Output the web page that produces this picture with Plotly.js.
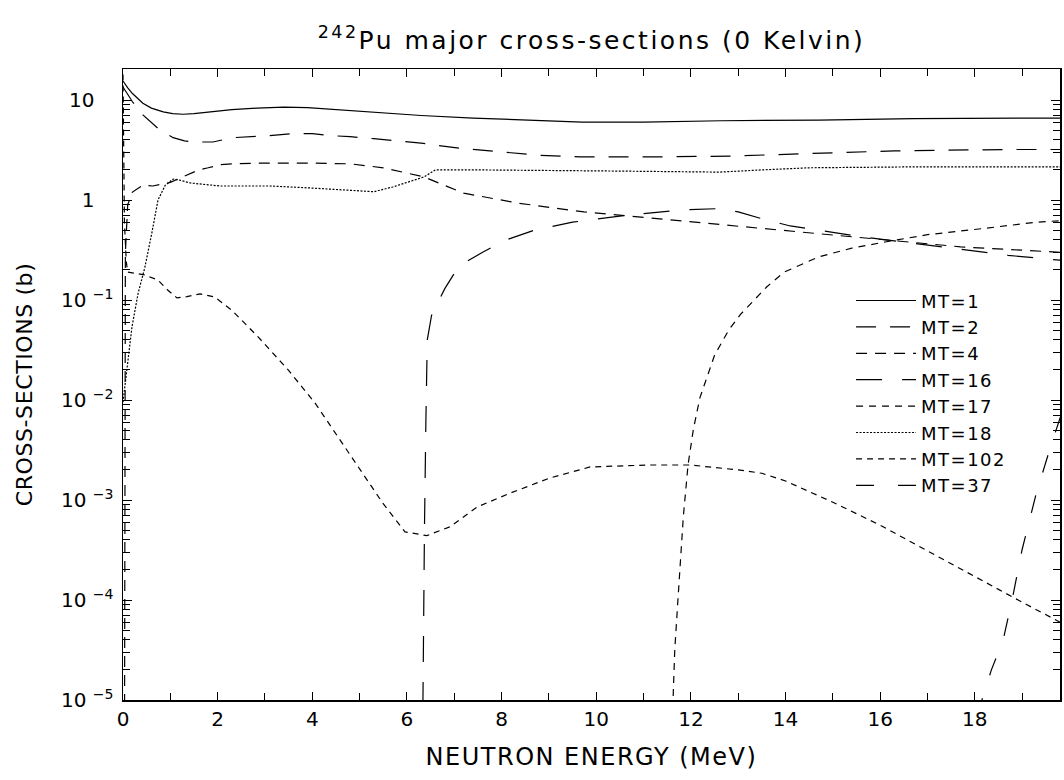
<!DOCTYPE html>
<html><head><meta charset="utf-8">
<script src="https://cdn.plot.ly/plotly-3.0.1.min.js"></script>
<style>
html,body{margin:0;padding:0;background:#fff;overflow:hidden}
.gtitle{letter-spacing:2.5px}
.xtitle{letter-spacing:1.5px}
.ytitle{letter-spacing:0.6px}
.legendtext{letter-spacing:1.5px}
</style>
</head><body><div id="chart" style="width:1064px;height:780px"></div>
<script>
// Neutron energy (MeV) and cross-sections (barns)
const mt1Energy = [0, 0.1, 0.2, 0.42, 0.6, 0.85, 1.05, 1.27, 1.5, 1.84, 2.3, 2.83, 3.4, 3.9, 4.65, 5.5, 6.3, 7.4, 8.8, 9.7, 11.0, 12.65, 14.7, 16.7, 19.3, 19.8];
const mt1XS     = [15.5, 13.2, 11.6, 9.3, 8.3, 7.6, 7.3, 7.2, 7.3, 7.6, 8.0, 8.3, 8.5, 8.4, 7.9, 7.4, 7.0, 6.6, 6.2, 6.0, 6.0, 6.2, 6.3, 6.5, 6.6, 6.6];

const mt2Energy = [0, 0.1, 0.2, 0.42, 0.74, 1.06, 1.3, 1.48, 1.9, 2.32, 2.75, 3.1, 3.57, 4.0, 4.4, 4.8, 5.3, 6.3, 7.1, 8.0, 8.8, 9.66, 11.35, 12.85, 14.7, 16.3, 18.7, 19.8];
const mt2XS     = [13.5, 11.5, 9.6, 7.1, 5.2, 4.2, 3.9, 3.8, 3.8, 4.2, 4.3, 4.4, 4.6, 4.6, 4.4, 4.3, 4.1, 3.7, 3.3, 3.0, 2.8, 2.7, 2.7, 2.75, 2.95, 3.1, 3.2, 3.2];

const mt4Energy = [0.03, 0.05, 0.1, 0.2, 0.42, 0.63, 1.0, 1.4, 1.6, 1.8, 2.05, 2.3, 3.0, 4.0, 4.8, 5.5, 6.36, 7.2, 8.35, 9.74, 11.15, 12.76, 14.45, 16.1, 17.7, 19.8];
const mt4XS     = [1e-6, 0.3, 0.9, 1.2, 1.41, 1.38, 1.5, 1.8, 2.0, 2.1, 2.25, 2.3, 2.34, 2.34, 2.3, 2.1, 1.7, 1.17, 0.93, 0.76, 0.66, 0.56, 0.47, 0.40, 0.34, 0.30];

const mt16Energy = [6.32, 6.34, 6.37, 6.40, 6.43, 6.52, 6.8, 7.1, 7.6, 8.1, 8.7, 9.5, 10.7, 11.9, 12.6, 13.0, 13.5, 14.1, 15.6, 17.5, 18.7, 19.8];
const mt16XS     = [1e-6, 2e-5, 5e-4, 6e-3, 0.04, 0.07, 0.13, 0.22, 0.30, 0.40, 0.50, 0.60, 0.71, 0.80, 0.82, 0.76, 0.65, 0.55, 0.43, 0.33, 0.28, 0.25];

const mt17Energy = [11.55, 11.62, 11.66, 11.72, 11.77, 11.84, 11.94, 12.05, 12.19, 12.5, 12.8, 13.04, 13.6, 13.97, 14.7, 15.4, 16.1, 17.0, 18.2, 19.3, 19.8];
const mt17XS     = [1e-6, 1e-5, 3.2e-5, 9e-5, 2.1e-4, 6.8e-4, 2.24e-3, 5e-3, 0.0105, 0.028, 0.05, 0.071, 0.135, 0.19, 0.27, 0.33, 0.38, 0.45, 0.52, 0.60, 0.62];

const mt18Energy = [0, 0.04, 0.08, 0.19, 0.32, 0.46, 0.61, 0.74, 0.89, 1.06, 1.2, 1.42, 2.05, 3.1, 3.95, 4.6, 5.0, 5.3, 5.7, 6.36, 6.6, 7.5, 10.3, 12.6, 13.5, 14.5, 16.5, 19.8];
const mt18XS     = [0.0095, 0.0135, 0.021, 0.054, 0.117, 0.21, 0.47, 1.0, 1.4, 1.62, 1.58, 1.48, 1.38, 1.38, 1.32, 1.26, 1.22, 1.21, 1.35, 1.7, 2.0, 2.0, 1.95, 1.9, 2.0, 2.1, 2.14, 2.14];

const mt102Energy = [0, 0.03, 0.07, 0.1, 0.46, 0.74, 0.95, 1.14, 1.35, 1.63, 1.94, 2.30, 2.85, 3.49, 4.06, 4.78, 5.49, 5.96, 6.42, 6.91, 7.48, 8.18, 9.02, 9.87, 11.13, 11.98, 13.0, 13.5, 14.0, 15.0, 16.0, 17.0, 18.0, 19.0, 19.86];
const mt102XS     = [18, 0.6, 0.24, 0.19, 0.178, 0.158, 0.125, 0.105, 0.108, 0.115, 0.107, 0.079, 0.043, 0.020, 0.0093, 0.0029, 9.3e-4, 4.8e-4, 4.4e-4, 5.4e-4, 8.5e-4, 1.17e-3, 1.66e-3, 2.14e-3, 2.24e-3, 2.24e-3, 2.0e-3, 1.85e-3, 1.55e-3, 9.5e-4, 5.6e-4, 3.1e-4, 1.7e-4, 9.5e-5, 5.8e-5];

const mt37Energy = [18.05, 18.15, 18.35, 18.6, 18.8, 19.0, 19.3, 19.6, 19.86];
const mt37XS     = [1e-6, 1e-5, 2e-5, 4e-5, 1.07e-4, 3.2e-4, 1.17e-3, 3.4e-3, 8e-3];

const seriesNames = ['MT=1', 'MT=2', 'MT=4', 'MT=16', 'MT=17', 'MT=18', 'MT=102', 'MT=37'];
const xTickVals = [0, 2, 4, 6, 8, 10, 12, 14, 16, 18];
const yTickVals = [1e-5, 1e-4, 1e-3, 1e-2, 1e-1, 1, 10];
const yTickText = ['10 <sup>\u22125</sup>', '10 <sup>\u22124</sup>', '10 <sup>\u22123</sup>', '10 <sup>\u22122</sup>', '10 <sup>\u22121</sup>', '1\u00a0\u00a0\u00a0', '10\u00a0\u00a0\u00a0'];

const energies = [mt1Energy, mt2Energy, mt4Energy, mt16Energy, mt17Energy, mt18Energy, mt102Energy, mt37Energy];
const values = [mt1XS, mt2XS, mt4XS, mt16XS, mt17XS, mt18XS, mt102XS, mt37XS];
const dashes = ['solid', '20px,14px', '11px,8px', '26px,20px', '7px,6px', '2px,1.5px', '6px,5px', '18px,24px'];

const minorY = [];
for (let p = -5; p <= 1; p++) for (let d = 2; d <= 9; d++) minorY.push(d * Math.pow(10, p));

const FONT = 'DejaVu Sans, sans-serif';
const traces = seriesNames.map((n, i) => ({
  type: 'scatter', mode: 'lines', name: n,
  x: energies[i], y: values[i],
  line: {color: '#000', width: 1.2, dash: dashes[i]},
  hoverinfo: 'skip'
}));

const layout = {
  width: 1064, height: 780,
  margin: {l: 123, r: 4, t: 69, b: 80},
  paper_bgcolor: '#fff', plot_bgcolor: '#fff',
  font: {family: FONT, color: '#000', size: 20},
  title: {text: '<sup>242</sup>Pu major cross-sections (0 Kelvin)', x: 0.5, xref: 'paper', xanchor: 'center',
          y: 0.949, yref: 'container', yanchor: 'middle', font: {family: FONT, size: 25, color: '#000'}},
  xaxis: {
    range: [0, 19.8], showgrid: false, zeroline: false,
    showline: true, linecolor: '#000', linewidth: 1.5, mirror: 'allticks',
    ticks: 'inside', ticklen: 8, tickwidth: 1, tickcolor: '#000',
    tickmode: 'array', tickvals: xTickVals, tickfont: {size: 20},
    minor: {dtick: 1, ticks: 'inside', ticklen: 7, tickcolor: '#000', showgrid: false},
    title: {text: 'NEUTRON ENERGY (MeV)', font: {size: 24}, standoff: 18}
  },
  yaxis: {
    type: 'log', range: [-5, 1.31], showgrid: false, zeroline: false,
    showline: true, linecolor: '#000', linewidth: 1.5, mirror: 'allticks',
    ticks: 'inside', ticklen: 9, tickwidth: 1, tickcolor: '#000',
    tickmode: 'array', tickvals: yTickVals, ticktext: yTickText, tickfont: {size: 20},
    ticklabelstandoff: 4,
    minor: {tickmode: 'array', tickvals: minorY, ticks: 'inside', ticklen: 7, tickcolor: '#000', showgrid: false},
    title: {text: 'CROSS-SECTIONS (b)', font: {size: 22}, standoff: 22}
  },
  showlegend: true,
  legend: {x: 0.777, xanchor: 'left', y: 0.662, yanchor: 'top', bgcolor: 'rgba(255,255,255,0)',
           borderwidth: 0, font: {size: 18}, itemwidth: 60, tracegroupgap: 0}
};

Plotly.newPlot('chart', traces, layout, {displayModeBar: false, staticPlot: true});
</script></body></html>
